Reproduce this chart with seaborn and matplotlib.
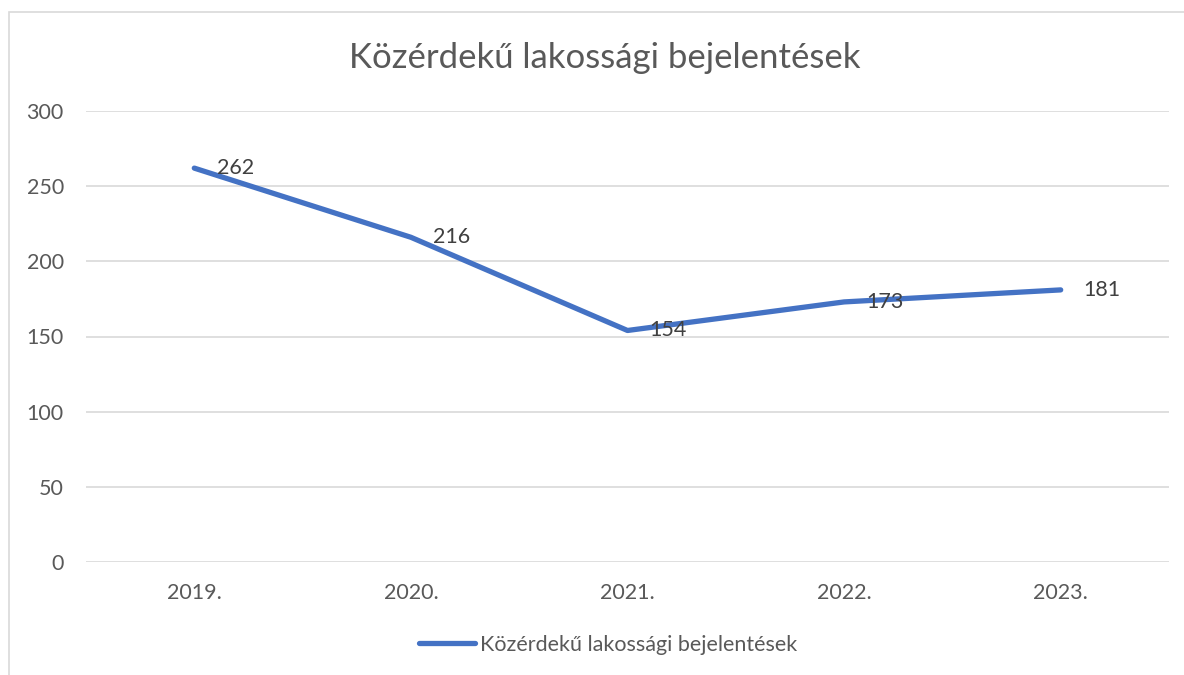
import matplotlib
matplotlib.use("Agg")
import matplotlib.pyplot as plt
import seaborn as sns
import pandas as pd
from matplotlib.patches import Rectangle

# chart data
years = ["2019.", "2020.", "2021.", "2022.", "2023."]
counts = [262, 216, 154, 173, 181]
series_name = "Közérdekű lakossági bejelentések"
y_ticks = [0, 50, 100, 150, 200, 250, 300]

df = pd.DataFrame({"Év": years, "Darab": counts, "Sorozat": series_name})

sns.set_theme(style="white")
plt.rcParams["font.family"] = ["Lato", "DejaVu Sans"]

text_color = "#595959"
line_color = "#4472C4"
grid_color = "#D9D9D9"

fig = plt.figure(figsize=(11.84, 6.75), dpi=100)
ax = fig.add_axes([86 / 1184, 1 - 562 / 675, (1169 - 86) / 1184, (562 - 111) / 675])

# chart border (Excel style)
fig.patches.append(Rectangle((9 / 1184, -0.1), 1.2, 1 - 12 / 675 + 0.1,
                             transform=fig.transFigure, fill=False,
                             edgecolor=grid_color, linewidth=1.2))

sns.lineplot(data=df, x="Év", y="Darab", hue="Sorozat", palette=[line_color],
             linewidth=3.8, sort=False, ax=ax, legend=True,
             solid_capstyle="round")

# data labels right of each point
for i, v in enumerate(counts):
    ax.annotate(str(v), (i, v), xytext=(16, 0), textcoords="offset points",
                ha="left", va="center", fontsize=15.5, color="#404040")

ax.set_xlim(-0.5, len(years) - 0.5)
ax.set_ylim(0, 300)
ax.set_yticks(y_ticks)
ax.set_yticklabels([str(t) for t in y_ticks])
ax.yaxis.grid(True, color=grid_color, linewidth=1.2)
ax.xaxis.grid(False)
for s in ax.spines.values():
    s.set_visible(False)
ax.tick_params(axis="both", length=0, labelsize=15.5, colors=text_color)
ax.tick_params(axis="y", pad=16)
ax.tick_params(axis="x", pad=15)
ax.set_xlabel("")
ax.set_ylabel("")

fig.text(605 / 1184, 1 - 58 / 675, series_name, ha="center", va="center",
         fontsize=25, color=text_color)

handles, labels = ax.get_legend_handles_labels()
ax.legend(handles, labels, loc="center", bbox_to_anchor=(608 / 1184, 1 - 645 / 675),
          bbox_transform=fig.transFigure, frameon=False, fontsize=15.5,
          labelcolor=text_color, handlelength=2.6, handletextpad=0.25)

fig.savefig("out.png", dpi=100)
